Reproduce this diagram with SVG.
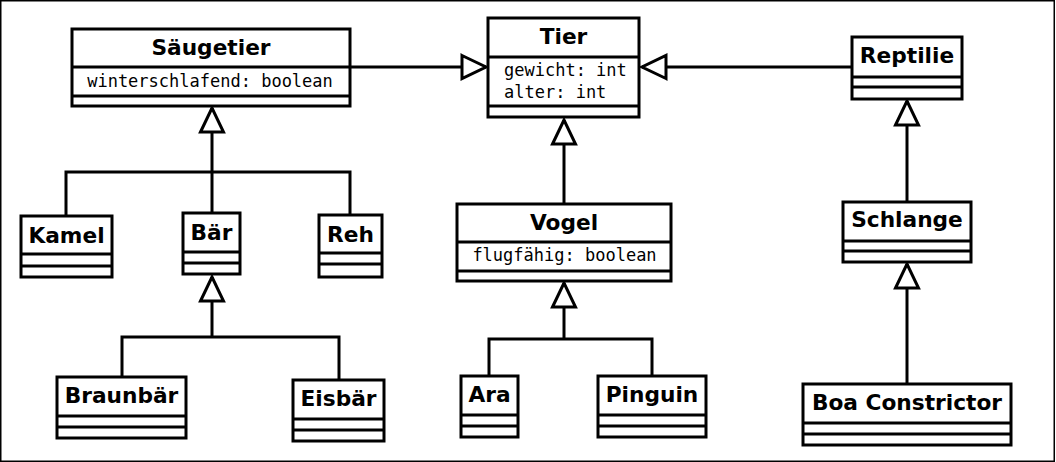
<svg xmlns="http://www.w3.org/2000/svg" width="1056" height="462" viewBox="0 0 1056 462">
<defs>
<style>
.box{fill:#fff;stroke:#000;stroke-width:3}
.div{stroke:#000;stroke-width:3}
.t{font-family:"DejaVu Sans","Liberation Sans",sans-serif;font-weight:bold;font-size:21.7px;text-anchor:middle;fill:#000}
.a{font-family:"DejaVu Sans Mono","Liberation Mono",monospace;font-size:17px;fill:#000}
.c{fill:none;stroke:#000;stroke-width:3}
</style>
<marker id="inh" markerUnits="userSpaceOnUse" viewBox="-3 -15 32 30" markerWidth="32" markerHeight="30" refX="24" refY="0" orient="auto">
<path d="M0,-11.5 L24,0 L0,11.5 Z" fill="#fff" stroke="#000" stroke-width="3"/>
</marker>
</defs>
<rect x="0" y="0" width="1056" height="462" fill="#fff"/>
<rect x="0.75" y="0.75" width="1053.5" height="460.5" fill="none" stroke="#000" stroke-width="1.5"/>
<g id="connectors">
<path class="c" d="M350,67 H486" marker-end="url(#inh)"/>
<path class="c" d="M852,67 H642" marker-end="url(#inh)"/>
<path class="c" d="M564,204 V120" marker-end="url(#inh)"/>
<path class="c" d="M212,213 V108" marker-end="url(#inh)"/>
<path class="c" d="M66,216 V172 H350 V215"/>
<path class="c" d="M212,337 V277" marker-end="url(#inh)"/>
<path class="c" d="M122,377 V337 H339 V380"/>
<path class="c" d="M564,339 V283" marker-end="url(#inh)"/>
<path class="c" d="M489,376 V339 H652 V376"/>
<path class="c" d="M907,202 V101" marker-end="url(#inh)"/>
<path class="c" d="M907,384 V264" marker-end="url(#inh)"/>
</g>
<g id="saeugetier">
<rect class="box" x="72" y="29" width="278" height="77"/>
<line class="div" x1="72" y1="67" x2="350" y2="67"/>
<line class="div" x1="72" y1="96" x2="350" y2="96"/>
<text class="t" x="211" y="55">Säugetier</text>
<text class="a" x="210" y="87" text-anchor="middle">winterschlafend: boolean</text>
</g>
<g id="tier">
<rect class="box" x="488" y="18" width="151" height="99"/>
<line class="div" x1="488" y1="57" x2="639" y2="57"/>
<line class="div" x1="488" y1="106" x2="639" y2="106"/>
<text class="t" x="563.5" y="44">Tier</text>
<text class="a" x="504" y="76">gewicht: int</text>
<text class="a" x="504" y="98">alter: int</text>
</g>
<g id="reptilie">
<rect class="box" x="852" y="37" width="110" height="62"/>
<line class="div" x1="852" y1="77" x2="962" y2="77"/>
<line class="div" x1="852" y1="87" x2="962" y2="87"/>
<text class="t" x="907" y="63">Reptilie</text>
</g>
<g id="schlange">
<rect class="box" x="843" y="202" width="128" height="60"/>
<line class="div" x1="843" y1="241" x2="971" y2="241"/>
<line class="div" x1="843" y1="251" x2="971" y2="251"/>
<text class="t" x="907" y="227">Schlange</text>
</g>
<g id="boa">
<rect class="box" x="803" y="384" width="208" height="61"/>
<line class="div" x1="803" y1="423" x2="1011" y2="423"/>
<line class="div" x1="803" y1="434" x2="1011" y2="434"/>
<text class="t" x="907" y="410">Boa Constrictor</text>
</g>
<g id="vogel">
<rect class="box" x="457" y="204" width="214" height="77"/>
<line class="div" x1="457" y1="242" x2="671" y2="242"/>
<line class="div" x1="457" y1="271" x2="671" y2="271"/>
<text class="t" x="564" y="230">Vogel</text>
<text class="a" x="564.5" y="261" text-anchor="middle">flugfähig: boolean</text>
</g>
<g id="ara">
<rect class="box" x="461" y="376" width="57" height="61"/>
<line class="div" x1="461" y1="415" x2="518" y2="415"/>
<line class="div" x1="461" y1="426" x2="518" y2="426"/>
<text class="t" x="489.5" y="402">Ara</text>
</g>
<g id="pinguin">
<rect class="box" x="598" y="376" width="108" height="61"/>
<line class="div" x1="598" y1="415" x2="706" y2="415"/>
<line class="div" x1="598" y1="426" x2="706" y2="426"/>
<text class="t" x="652" y="402">Pinguin</text>
</g>
<g id="kamel">
<rect class="box" x="21" y="216" width="91" height="61"/>
<line class="div" x1="21" y1="254" x2="112" y2="254"/>
<line class="div" x1="21" y1="266" x2="112" y2="266"/>
<text class="t" x="66.5" y="243">Kamel</text>
</g>
<g id="baer">
<rect class="box" x="183" y="213" width="57" height="61"/>
<line class="div" x1="183" y1="252" x2="240" y2="252"/>
<line class="div" x1="183" y1="263" x2="240" y2="263"/>
<text class="t" x="211.5" y="240">Bär</text>
</g>
<g id="reh">
<rect class="box" x="319" y="215" width="63" height="62"/>
<line class="div" x1="319" y1="253" x2="382" y2="253"/>
<line class="div" x1="319" y1="264" x2="382" y2="264"/>
<text class="t" x="350.5" y="242">Reh</text>
</g>
<g id="braunbaer">
<rect class="box" x="57" y="377" width="129" height="61"/>
<line class="div" x1="57" y1="416" x2="186" y2="416"/>
<line class="div" x1="57" y1="427" x2="186" y2="427"/>
<text class="t" x="121.5" y="403">Braunbär</text>
</g>
<g id="eisbaer">
<rect class="box" x="293" y="380" width="91" height="61"/>
<line class="div" x1="293" y1="419" x2="384" y2="419"/>
<line class="div" x1="293" y1="430" x2="384" y2="430"/>
<text class="t" x="338.5" y="406">Eisbär</text>
</g>
</svg>
